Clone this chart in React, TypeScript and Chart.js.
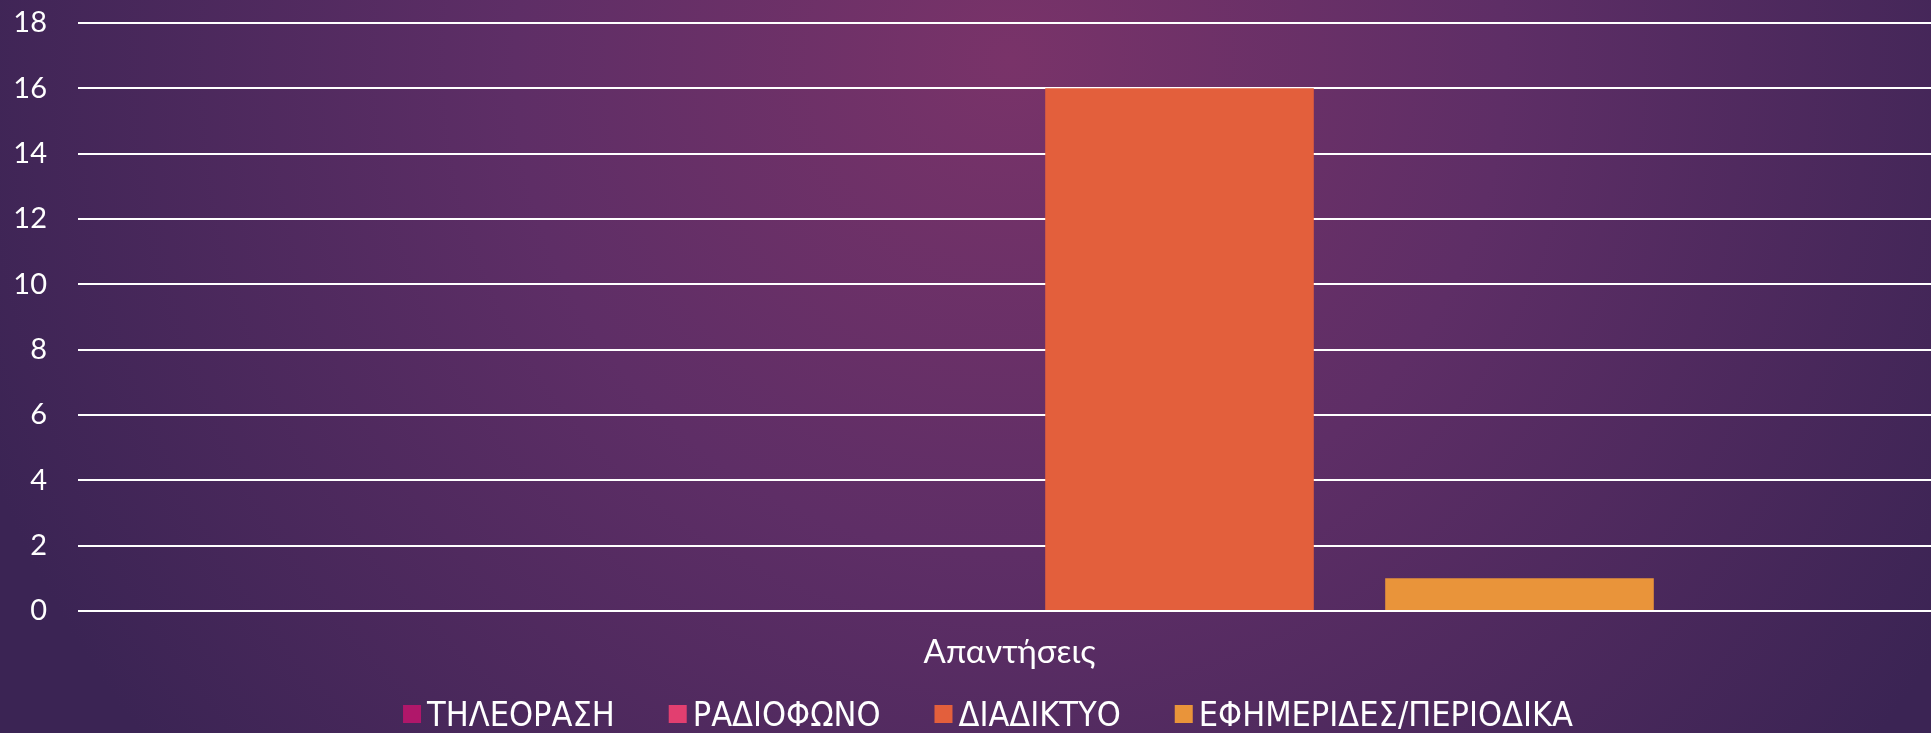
import React, { useEffect, useRef } from "react";
import { Chart, registerables } from "chart.js";

Chart.register(...registerables);

const categories = ["Απαντήσεις"];
const seriesNames = ["ΤΗΛΕΟΡΑΣΗ", "ΡΑΔΙΟΦΩΝΟ", "ΔΙΑΔΙΚΤΥΟ", "ΕΦΗΜΕΡΙΔΕΣ/ΠΕΡΙΟΔΙΚΑ"];
const seriesValues = [[0], [0], [16], [1]];
const seriesColors = ["#B0176A", "#E23F70", "#E35F3C", "#E9943A"];
const yMax = 18;
const yStep = 2;

const legendFont = "34px 'Liberation Sans Narrow', 'DejaVu Sans Condensed', Lato, sans-serif";

const bgPlugin = {
  id: "bg",
  beforeDraw(chart: any) {
    const { ctx, width, height } = chart;
    ctx.save();
    const g = ctx.createRadialGradient(1010, 60, 0, 1010, 60, 1100);
    g.addColorStop(0, "#793369");
    g.addColorStop(0.45, "#5e2e66");
    g.addColorStop(1, "#3b2454");
    ctx.fillStyle = g;
    ctx.fillRect(0, 0, width, height);
    ctx.restore();
  },
};

const legendPlugin = {
  id: "customLegend",
  afterDraw(chart: any) {
    const { ctx } = chart;
    const items = chart.data.datasets.map((d: any) => ({ label: d.label, color: d.backgroundColor }));
    ctx.save();
    ctx.font = legendFont;
    const box = 18;
    const gapText = 6;
    const gapItem = 54;
    const widths = items.map((it: any) => box + gapText + ctx.measureText(it.label).width);
    const total = widths.reduce((a: number, b: number) => a + b, 0) + gapItem * (items.length - 1);
    let x = 988 - total / 2;
    const cy = 716;
    ctx.textBaseline = "middle";
    ctx.textAlign = "left";
    items.forEach((it: any, i: number) => {
      ctx.fillStyle = it.color;
      ctx.fillRect(x, cy - box / 2 - 2, box, box);
      ctx.fillStyle = "#ffffff";
      ctx.fillText(it.label, x + box + gapText, cy + 1);
      x += widths[i] + gapItem;
    });
    ctx.restore();
  },
};

export default function App() {
  const ref = useRef<HTMLCanvasElement>(null);
  useEffect(() => {
    document.documentElement.style.overflow = "hidden";
    document.body.style.overflow = "hidden";
    document.body.style.margin = "0";
    const chart = new Chart(ref.current as HTMLCanvasElement, {
      type: "bar",
      data: {
        labels: categories,
        datasets: seriesNames.map((n, i) => ({
          label: n,
          data: seriesValues[i],
          backgroundColor: seriesColors[i],
          borderWidth: 0,
          categoryPercentage: 0.73,
          barPercentage: 0.79,
        })),
      },
      options: {
        animation: false,
        responsive: false,
        maintainAspectRatio: false,
        layout: { padding: { top: 23, right: 4, left: 0, bottom: 62 } },
        plugins: {
          tooltip: { enabled: false },
          legend: { display: false },
        },
        scales: {
          x: {
            afterFit(scale: any) {
              scale.height = 60;
            },
            grid: { display: false, drawTicks: false },
            border: { display: false },
            ticks: { color: "#ffffff", padding: 22, font: { family: "Lato, sans-serif", size: 33 } },
          },
          y: {
            min: 0,
            max: yMax,
            afterFit(scale: any) {
              scale.width = 78;
              scale.paddingTop = 0;
              scale.paddingBottom = 0;
            },
            grid: { color: "#ffffff", lineWidth: 2, drawTicks: false },
            border: { display: false },
            ticks: {
              stepSize: yStep,
              color: "#ffffff",
              padding: 31,
              font: { family: "Lato, sans-serif", size: 29 },
            },
          },
        },
      },
      plugins: [bgPlugin, legendPlugin],
    });
    return () => chart.destroy();
  }, []);
  return (
    <canvas
      ref={ref}
      width={1945}
      height={733}
      style={{ position: "absolute", left: 0, top: 0, width: 1945, height: 733, display: "block" }}
    />
  );
}
